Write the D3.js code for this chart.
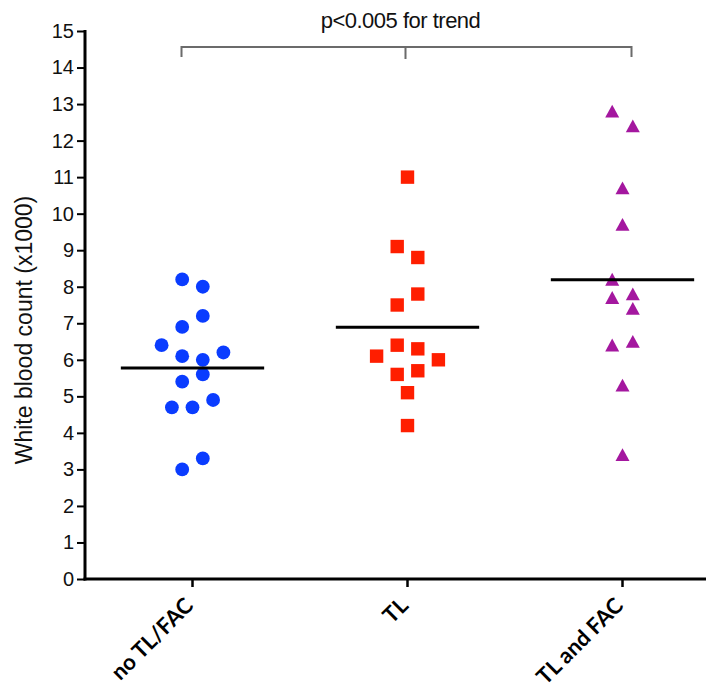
<!DOCTYPE html>
<html>
<head>
<meta charset="utf-8">
<script src="https://cdn.jsdelivr.net/npm/d3@7"></script>
<style>
  html, body { margin: 0; padding: 0; background: #fff; }
  svg { display: block; }
</style>
</head>
<body>
<svg id="chart" width="720" height="689"></svg>
<script>
// Groups along the x axis
const categories = ["no TL/FAC", "TL", "TL and FAC"];

// White blood count (x1000) per patient, listed left to right within each row of the scatter
const noTlFac  = [8.2, 8.0, 6.9, 7.2, 6.4, 6.1, 6.0, 6.2, 5.4, 5.6, 4.7, 4.7, 4.9, 3.0, 3.3];
const tlOnly   = [11.0, 9.1, 8.8, 7.5, 7.8, 6.1, 6.4, 6.3, 6.0, 5.6, 5.7, 5.1, 4.2];
const tlAndFac = [12.8, 12.4, 10.7, 9.7, 8.2, 7.8, 7.7, 7.4, 6.4, 6.5, 5.3, 3.4];

const yTickValues = [0, 1, 2, 3, 4, 5, 6, 7, 8, 9, 10, 11, 12, 13, 14, 15];
const yTitle = "White blood count (x1000)";
const trendLabel = "p<0.005 for trend";

const groups = [
  { name: categories[0], values: noTlFac,  shape: "circle",   color: "#0a3cff" },
  { name: categories[1], values: tlOnly,   shape: "square",   color: "#ff1e00" },
  { name: categories[2], values: tlAndFac, shape: "triangle", color: "#a4179f" }
];

const svg = d3.select("#chart");
const plot = { left: 85, top: 31, bottom: 579, right: 730, axisEnd: 706 };

const x = d3.scaleBand().domain(categories).range([plot.left, plot.right]).padding(0);
const cx = c => x(c) + x.bandwidth() / 2;
const y = d3.scaleLinear().domain([0, 15]).range([plot.bottom, plot.top]);

// Column-scatter layout: points close in value share a row and spread out symmetrically
const unit = 10.3, rowGap = 16;
function spread(values) {
  const pts = values.map((v, i) => ({ v, i, py: y(v) }));
  const sorted = pts.slice().sort((a, b) => b.v - a.v || a.i - b.i);
  const rows = [];
  sorted.forEach(p => {
    const row = rows[rows.length - 1];
    if (row && p.py - row[0].py <= rowGap) row.push(p); else rows.push([p]);
  });
  rows.forEach(row => {
    row.sort((a, b) => a.i - b.i);
    row.forEach((p, k) => { p.dx = (k - (row.length - 1) / 2) * 2 * unit; });
  });
  return pts;
}

const font = "'Liberation Sans', Arial, sans-serif";

// Y axis
const yAxis = svg.append("g")
  .attr("transform", `translate(${plot.left},0)`)
  .call(d3.axisLeft(y).tickValues(yTickValues).tickSize(8).tickPadding(3).tickSizeOuter(0));
yAxis.select(".domain").attr("stroke", "#000").attr("stroke-width", 3)
  .attr("d", `M0,${plot.top - 1}V${plot.bottom + 1.5}`);
yAxis.selectAll(".tick line").attr("stroke", "#000").attr("stroke-width", 2);
yAxis.selectAll(".tick text").attr("font-family", font).attr("font-size", 20).attr("fill", "#111");

// X axis
const xAxis = svg.append("g")
  .attr("transform", `translate(0,${plot.bottom})`)
  .call(d3.axisBottom(x).tickSize(8).tickSizeOuter(0).tickFormat(""));
xAxis.select(".domain").attr("stroke", "#000").attr("stroke-width", 3)
  .attr("d", `M${plot.left - 1.5},0H${plot.axisEnd}`);
xAxis.selectAll(".tick line").attr("stroke", "#000").attr("stroke-width", 2.5);

// Rotated category labels
svg.append("g").selectAll("text")
  .data(categories)
  .join("text")
  .attr("transform", d => `translate(${cx(d) + 2},${plot.bottom + 28}) rotate(-45)`)
  .attr("text-anchor", "end")
  .attr("font-family", "Lato, 'Open Sans', sans-serif")
  .attr("font-weight", "bold")
  .attr("font-size", 22)
  .attr("fill", "#000")
  .text(d => d);

// Y axis title
svg.append("text")
  .attr("transform", `translate(32,${(plot.top + plot.bottom) / 2 + 25}) rotate(-90)`)
  .attr("text-anchor", "middle")
  .attr("font-family", font)
  .attr("font-size", 23)
  .attr("fill", "#111")
  .text(yTitle);

// Points
const marks = svg.append("g");
groups.forEach(g => {
  const pts = spread(g.values);
  const sel = marks.append("g").selectAll("path").data(pts).join("path")
    .attr("fill", g.color)
    .attr("transform", p => `translate(${cx(g.name) + p.dx},${p.py})`);
  if (g.shape === "circle") sel.attr("d", d3.symbol(d3.symbolCircle, Math.PI * 6.9 * 6.9)());
  else if (g.shape === "square") sel.attr("d", "M-6.7,-6.7H6.7V6.7H-6.7Z");
  else sel.attr("d", "M0,-6.6L7,6.2H-7Z");
});

// Group means
svg.append("g").selectAll("line")
  .data(groups)
  .join("line")
  .attr("x1", g => cx(g.name) - x.bandwidth() / 3)
  .attr("x2", g => cx(g.name) + x.bandwidth() / 3)
  .attr("y1", g => y(d3.mean(g.values)))
  .attr("y2", g => y(d3.mean(g.values)))
  .attr("stroke", "#000")
  .attr("stroke-width", 3);

// Trend bracket across the three groups
const bx0 = cx(categories[0]) - 11, bx1 = cx(categories[1]) - 2, bx2 = cx(categories[2]) + 9;
const by = 47;
svg.append("path")
  .attr("d", `M${bx0},${by + 10}V${by}H${bx2}V${by + 10}M${bx1},${by}V${by + 12}`)
  .attr("fill", "none")
  .attr("stroke", "#6b6b6b")
  .attr("stroke-width", 2);
svg.append("text")
  .attr("x", bx1 - 5)
  .attr("y", 28)
  .attr("text-anchor", "middle")
  .attr("font-family", font)
  .attr("font-size", 22)
  .attr("letter-spacing", -0.5)
  .attr("fill", "#111")
  .text(trendLabel);
</script>
</body>
</html>
